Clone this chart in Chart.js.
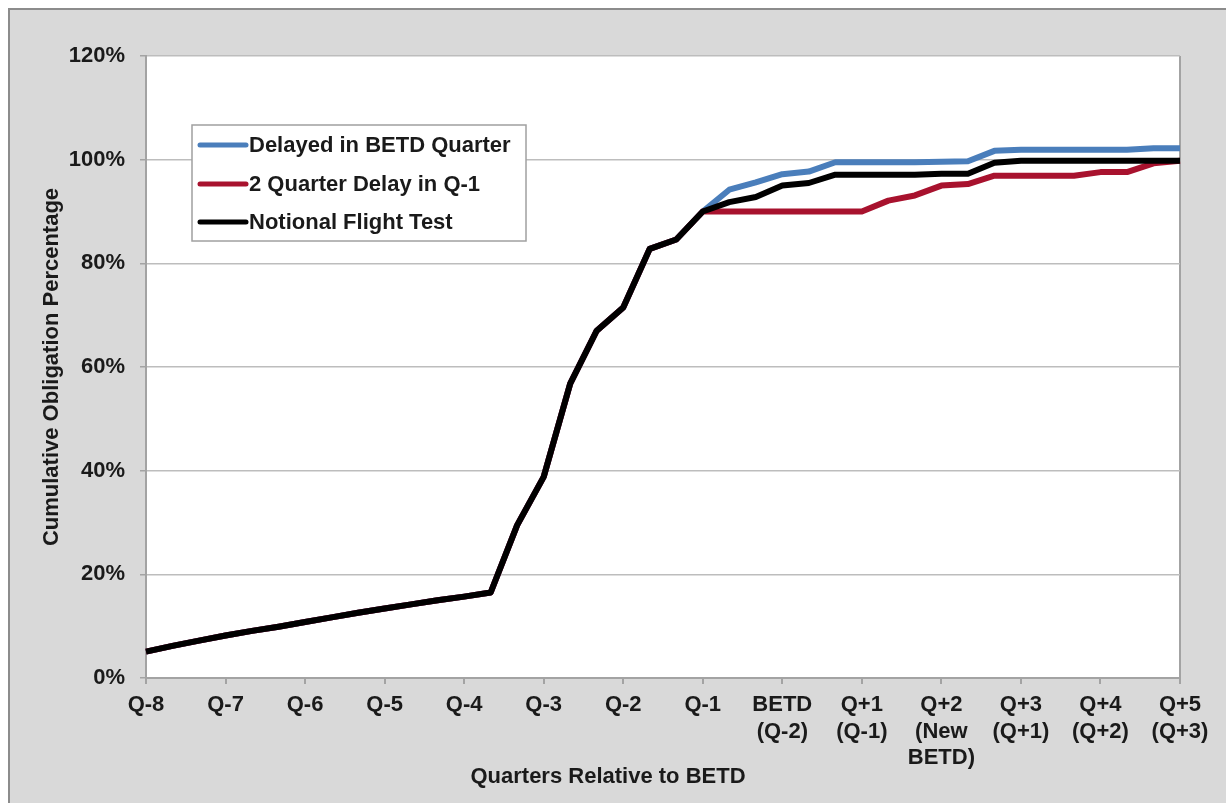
<!DOCTYPE html>
<html>
<head>
<meta charset="utf-8">
<title>Cumulative Obligation Percentage</title>
<script src="https://cdn.jsdelivr.net/npm/chart.js@4.4.1/dist/chart.umd.min.js"></script>
<style>
  html, body { margin: 0; padding: 0; background: #fff; }
  #frame {
    position: absolute; left: 8px; top: 8px; width: 1218px; height: 795px;
    box-sizing: border-box; background: #d9d9d9;
    border-left: 2px solid #8c8c8c; border-top: 2px solid #8c8c8c;
  }
  #chart { position: absolute; left: 0; top: 0; }
</style>
</head>
<body>
<div id="frame"></div>
<canvas id="chart" width="1226" height="803"></canvas>
<script>
// quarter tick labels (one tick every 3 monthly points)
const quarterLabels = [
    'Q-8', 'Q-7', 'Q-6', 'Q-5', 'Q-4', 'Q-3', 'Q-2', 'Q-1',
    ['BETD', '(Q-2)'], ['Q+1', '(Q-1)'], ['Q+2', '(New', 'BETD)'],
    ['Q+3', '(Q+1)'], ['Q+4', '(Q+2)'], ['Q+5', '(Q+3)']
]
const seriesNames = ['Delayed in BETD Quarter', '2 Quarter Delay in Q-1', 'Notional Flight Test']

// cumulative obligation %, one value per month from Q-8 to Q+5
const delayedInBetd = [
    5.1, 6.2, 7.2, 8.2, 9.1, 9.9, 10.8, 11.7, 12.6, 13.4, 14.2, 15.0, 15.7, 16.5,
    29.5, 38.8, 56.8, 67.0, 71.5, 82.8, 84.6, 90.0,
    94.2, 95.6, 97.2, 97.7, 99.5, 99.5, 99.5, 99.5, 99.6, 99.7,
    101.7, 101.9, 101.9, 101.9, 101.9, 101.9, 102.2, 102.2
]
const delayInQ1 = [
    5.1, 6.2, 7.2, 8.2, 9.1, 9.9, 10.8, 11.7, 12.6, 13.4, 14.2, 15.0, 15.7, 16.5,
    29.5, 38.8, 56.8, 67.0, 71.5, 82.8, 84.6, 90.0,
    90.0, 90.0, 90.0, 90.0, 90.0, 90.0, 92.1, 93.1, 95.0, 95.3,
    96.9, 96.9, 96.9, 96.9, 97.6, 97.6, 99.3, 99.8
]
const notionalFlightTest = [
    5.1, 6.2, 7.2, 8.2, 9.1, 9.9, 10.8, 11.7, 12.6, 13.4, 14.2, 15.0, 15.7, 16.5,
    29.5, 38.8, 56.8, 67.0, 71.5, 82.8, 84.6, 90.0,
    91.8, 92.8, 95.0, 95.5, 97.1, 97.1, 97.1, 97.1, 97.3, 97.3,
    99.4, 99.8, 99.8, 99.8, 99.8, 99.8, 99.8, 99.8
]

const monthLabels = notionalFlightTest.map((v, i) => i % 3 === 0 ? quarterLabels[i / 3] : '')

const FONT = '"Liberation Sans", Arial, Helvetica, sans-serif'
const AXIS_GREY = '#a3a3a3'
Chart.defaults.font.family = FONT
Chart.defaults.font.size = 22
Chart.defaults.font.weight = 'bold'
Chart.defaults.color = '#1a1a1a'

// white plot area on the grey frame
const plotBackground = {
    id: 'plotBackground',
    beforeDraw: (chart) => {
        const {ctx, chartArea: a} = chart
        ctx.save()
        ctx.fillStyle = '#fff'
        ctx.fillRect(a.left, a.top, a.right - a.left, a.bottom - a.top)
        ctx.restore()
    }
}

// boxed legend sitting inside the plot area
const insideLegend = {
    id: 'insideLegend',
    afterDatasetsDraw: (chart, args, opts) => {
        const {ctx, chartArea} = chart
        const x = chartArea.left + opts.left
        const y = chartArea.top + opts.top
        ctx.save()
        ctx.fillStyle = '#fff'
        ctx.strokeStyle = '#a0a0a0'
        ctx.lineWidth = 1.5
        ctx.fillRect(x, y, opts.width, opts.height)
        ctx.strokeRect(x, y, opts.width, opts.height)
        ctx.font = 'bold 22px ' + FONT
        ctx.textBaseline = 'middle'
        chart.data.datasets.forEach((ds, i) => {
            const rowY = y + opts.rows[i]
            ctx.strokeStyle = ds.borderColor
            ctx.lineWidth = 5
            ctx.lineCap = 'round'
            ctx.beginPath()
            ctx.moveTo(x + 8, rowY)
            ctx.lineTo(x + 54, rowY)
            ctx.stroke()
            ctx.fillStyle = '#1a1a1a'
            ctx.fillText(ds.label, x + 57, rowY + 1)
        })
        ctx.restore()
    }
}

const line = (label, data, color, order) => ({
    label, data, order,
    borderColor: color,
    backgroundColor: color,
    borderWidth: 6,
    borderJoinStyle: 'round',
    pointRadius: 0,
    tension: 0,
    fill: false
})

new Chart(document.getElementById('chart'), {
    type: 'line',
    data: {
        labels: monthLabels,
        datasets: [
            line(seriesNames[0], delayedInBetd, '#4a7ebb', 2),
            line(seriesNames[1], delayInQ1, '#a8122e', 1),
            line(seriesNames[2], notionalFlightTest, '#000000', 0)
        ]
    },
    options: {
        responsive: false,
        animation: false,
        layout: {padding: {top: 56, left: 36, right: 46, bottom: 0}},
        plugins: {
            legend: {display: false},
            tooltip: {enabled: false},
            title: {
                display: true,
                position: 'bottom',
                text: 'Quarters Relative to BETD',
                font: {size: 22, weight: 'bold', lineHeight: 1.2},
                padding: {top: -12, bottom: 13}
            },
            insideLegend: {left: 46, top: 69, width: 334, height: 116, rows: [20, 59, 97]}
        },
        scales: {
            x: {
                ticks: {autoSkip: false, maxRotation: 0, minRotation: 0, padding: 8,
                    font: {size: 22, weight: 'bold', lineHeight: 1.2}},
                grid: {
                    lineWidth: 2,
                    tickLength: 6,
                    color: (c) => c.index === monthLabels.length - 1 ? AXIS_GREY : 'transparent',
                    tickColor: (c) => c.index % 3 === 0 ? AXIS_GREY : 'transparent'
                },
                border: {color: AXIS_GREY, width: 2},
                afterFit: (s) => { s.height = 97.6 }
            },
            y: {
                min: 0,
                max: 120,
                ticks: {stepSize: 20, padding: 15, callback: (v) => v + '%'},
                grid: {color: '#bdbdbd', lineWidth: 1.5, tickLength: 6, tickColor: AXIS_GREY},
                border: {color: AXIS_GREY, width: 2},
                title: {display: true, text: 'Cumulative Obligation Percentage', padding: {top: 3, bottom: 0}},
                afterFit: (s) => { s.width = 110 }
            }
        }
    },
    plugins: [plotBackground, insideLegend]
})
</script>
</body>
</html>
